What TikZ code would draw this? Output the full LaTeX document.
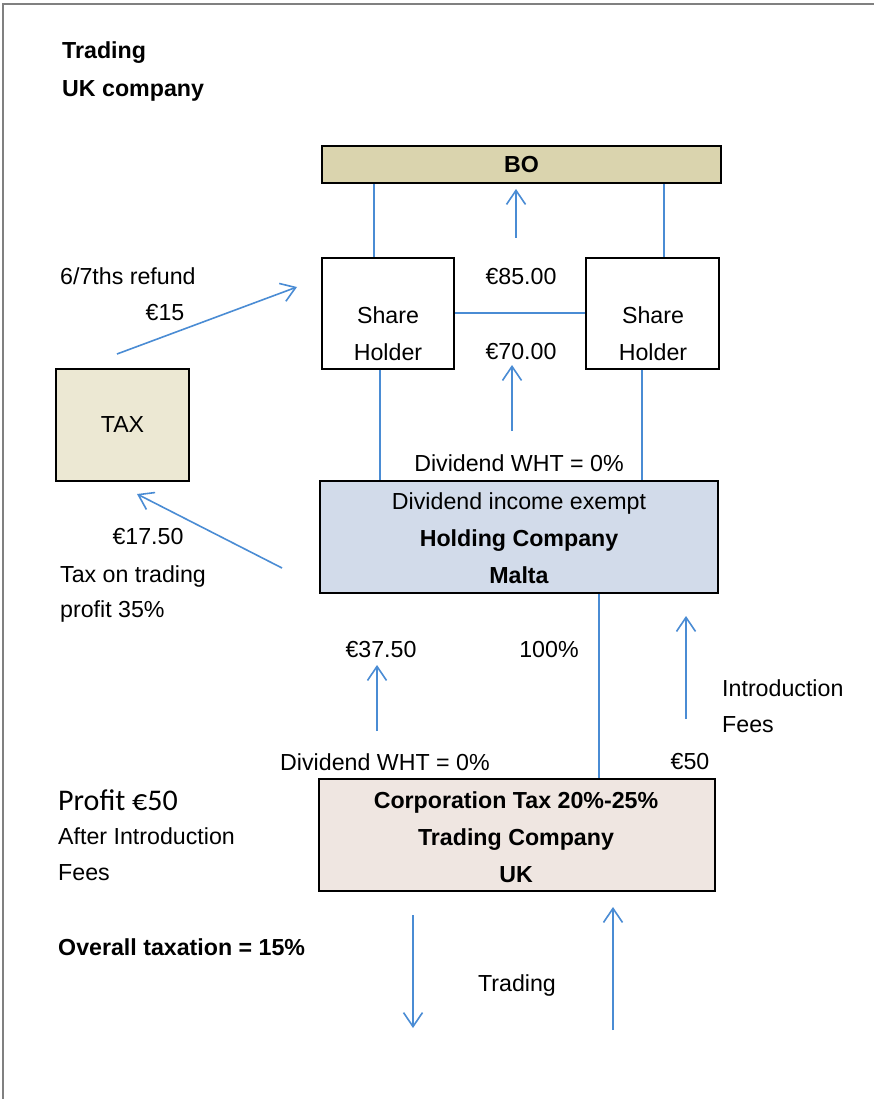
\documentclass[tikz,border=0pt]{standalone}
\usepackage{fontspec}
\setmainfont{Liberation Sans}
\newfontfamily\calfont{Carlito}
\usetikzlibrary{arrows.meta}
\definecolor{flow}{HTML}{4A8CD4}
\definecolor{bofill}{HTML}{DAD4AE}
\definecolor{taxfill}{HTML}{ECE8D3}
\definecolor{holdfill}{HTML}{D2DBEA}
\definecolor{tradefill}{HTML}{EFE6E1}
\tikzset{
  box/.style={draw=black, line width=2pt, inner sep=0pt, anchor=north west},
  txt/.style={inner sep=0pt, font=\fontsize{23.2}{37}\selectfont, align=center},
  btxt/.style={txt, font=\fontsize{23.2}{37}\selectfont\bfseries},
  ltxt/.style={txt, anchor=west, align=left},
  link/.style={draw=flow, line width=1.6pt},
  flowarrow/.style={link, -{Straight Barb[length=14pt,width=19pt,line width=1.6pt]}}
}
\begin{document}
\begin{tikzpicture}[x=1pt,y=-1pt]
\useasboundingbox (0,0) rectangle (874,1099);
\fill[white] (0,0) rectangle (874,1099);
\draw[gray, line width=1.5pt] (3,1099) -- (3,4) -- (874,4);

% titles
\node[btxt, anchor=west] (t1) at (62,53) {Trading};
\node[btxt, anchor=west] (t2) at (62,91) {UK company};

% boxes
\node[box, fill=bofill, minimum width=399pt, minimum height=37pt] (bo) at (321,145) {};
\node[btxt] at (bo.center) {BO};
\node[box, fill=white, minimum width=132pt, minimum height=111pt] (sh1) at (321,257) {};
\node[box, fill=white, minimum width=133pt, minimum height=111pt] (sh2) at (585,257) {};
\node[txt] (sh1t) at (388,334) {Share\\Holder};
\node[txt] (sh2t) at (653,334) {Share\\Holder};
\node[box, fill=taxfill, minimum width=133pt, minimum height=112pt] (tax) at (55,368) {};
\node[txt] at (tax.center) {TAX};
\node[box, fill=holdfill, minimum width=398pt, minimum height=112pt] (hold) at (319,480) {};
\node[txt] (holdt) at (519,538) {Dividend income exempt\\\textbf{Holding Company}\\\textbf{Malta}};
\node[box, fill=tradefill, minimum width=396pt, minimum height=112pt] (trade) at (318,778) {};
\node[btxt] (tradet) at (516,837) {Corporation Tax 20\%-25\%\\Trading Company\\UK};

% connectors
\draw[link] ([xshift=-14pt]sh1.north) -- ([xshift=-14pt]sh1.north |- bo.south);
\draw[link] ([xshift=11.5pt]sh2.north) -- ([xshift=11.5pt]sh2.north |- bo.south);
\draw[link] ([yshift=0.5pt]sh1.east) -- ([yshift=0.5pt]sh2.west);
\draw[link] ([xshift=-8pt]sh1.south) -- ([xshift=-8pt]sh1.south |- hold.north);
\draw[link] ([xshift=-10.5pt]sh2.south) -- ([xshift=-10.5pt]sh2.south |- hold.north);
\draw[link] ([xshift=80pt]hold.south) -- ([xshift=80pt]hold.south |- trade.north);

% free arrows
\coordinate (a1s) at (516,238); \coordinate (a1e) at (516,189);
\draw[flowarrow] (a1s) -- (a1e);
\coordinate (a2s) at (512,431); \coordinate (a2e) at (512,365);
\draw[flowarrow] (a2s) -- (a2e);
\coordinate (a3s) at (117,354); \coordinate (a3e) at (297,287);
\draw[flowarrow] (a3s) -- (a3e);
\coordinate (a4s) at (282,568); \coordinate (a4e) at (137,494);
\draw[flowarrow] (a4s) -- (a4e);
\coordinate (a5s) at (377,731); \coordinate (a5e) at (377,665);
\draw[flowarrow] (a5s) -- (a5e);
\coordinate (a6s) at (686,719); \coordinate (a6e) at (686,616);
\draw[flowarrow] (a6s) -- (a6e);
\coordinate (a7s) at (413,915); \coordinate (a7e) at (413,1028);
\draw[flowarrow] (a7s) -- (a7e);
\coordinate (a8s) at (613,1030); \coordinate (a8e) at (613,907);
\draw[flowarrow] (a8s) -- (a8e);

% labels
\node[txt] (l85) at (521,277) {€85.00};
\node[txt] (l70) at (521,352) {€70.00};
\node[txt] (lwht1) at (519,463) {Dividend WHT = 0\%};
\node[ltxt] (lref) at (60,276) {6/7ths refund};
\node[txt] (l15) at (165,313) {€15};
\node[txt] (l1750) at (148,537) {€17.50};
\node[ltxt] (ltax1) at (60,576) {Tax on trading};
\node[ltxt] (ltax2) at (60,611) {profit 35\%};
\node[txt] (l3750) at (381,650) {€37.50};
\node[txt] (l100) at (549,650) {100\%};
\node[ltxt] (lint1) at (722,688) {Introduction};
\node[ltxt] (lint2) at (722,725) {Fees};
\node[txt] (lwht2) at (385,762) {Dividend WHT = 0\%};
\node[txt] (l50) at (690,762) {€50};
\node[ltxt, font=\fontsize{30}{37}\selectfont\calfont] (lprof) at (58,800) {Profit €50};
\node[ltxt] (laft1) at (58,836) {After Introduction};
\node[ltxt] (laft2) at (58,873) {Fees};
\node[ltxt, font=\fontsize{23.2}{37}\selectfont\bfseries] (lover) at (58,947) {Overall taxation = 15\%};
\node[txt] (ltrad) at (517,985) {Trading};
\end{tikzpicture}
\end{document}
